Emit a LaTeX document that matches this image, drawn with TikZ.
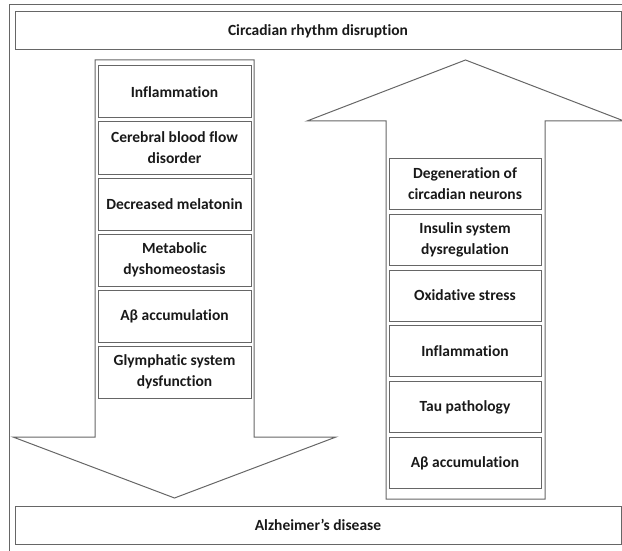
\documentclass[tikz,border=0pt]{standalone}
\usepackage{fontspec}
\setmainfont{Carlito}[Ligatures=NoCommon]

\begin{document}
\begin{tikzpicture}[x=1pt, y=-1pt, every node/.style={font=\bfseries\fontsize{15.5}{21}\selectfont, text=black!90}, line/.style={draw=black!60, line width=1pt}, cell/.style={line, rectangle, align=center, inner sep=0pt}, band/.style={line, rectangle, inner sep=0pt, minimum width=606pt, minimum height=38pt}]
	\useasboundingbox (0,0) rectangle (622,551);
	\clip (0,0) rectangle (622,551);
	\draw[line] (9,5) rectangle (630,560);
	\node[band] (cause) at (318,31) {Circadian rhythm disruption};
	\node[band] (ad) at (318,525) {Alzheimer’s disease};
	% block arrows
	\draw[line] (95,60) -- (254,60) -- (254,437) -- (336,437) -- (174.5,498) -- (13,437) -- (95,437) -- cycle;
	\draw[line] (386,499) -- (545,499) -- (545,121) -- (624,121) -- (465.5,60) -- (307,121) -- (386,121) -- cycle;
	\foreach \t [count=\i] in {Inflammation, {Cerebral blood flow\\disorder}, Decreased melatonin, {Metabolic\\dyshomeostasis}, Aβ accumulation, {Glymphatic system\\dysfunction}}
		{\node[cell, minimum width=153pt, minimum height=52pt] (l\i) at ({174.5}, {36+56*\i}) {\t};}
	\foreach \t [count=\i] in {{Degeneration of\\circadian neurons}, {Insulin system\\dysregulation}, Oxidative stress, Inflammation, Tau pathology, Aβ accumulation}
		{\node[cell, minimum width=152pt, minimum height=51pt] (r\i) at ({465}, {128.2+55.8*\i}) {\t};}
\end{tikzpicture}
\end{document}
